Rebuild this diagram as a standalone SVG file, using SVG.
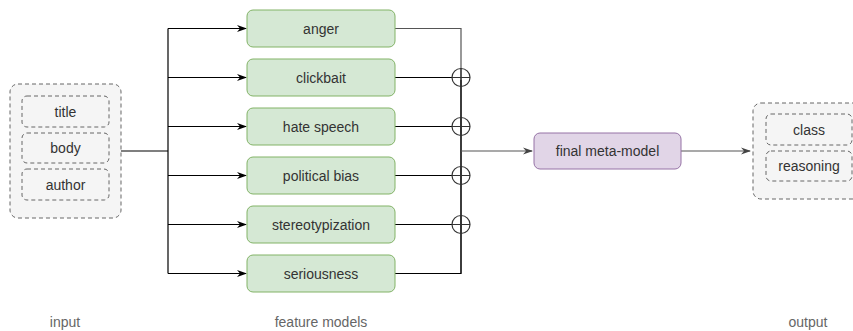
<svg xmlns="http://www.w3.org/2000/svg" width="853" height="331" viewBox="0 0 853 331">
<style>
text{font-family:"Liberation Sans",Arial,sans-serif;font-size:14px;fill:#333;text-anchor:middle;dominant-baseline:central}
.grp{fill:#f5f5f5;stroke:#666;stroke-dasharray:4 3;stroke-width:1}
.feat{fill:#d5e8d4;stroke:#82b366;stroke-width:1}
.meta{fill:#e1d5e7;stroke:#9673a6;stroke-width:1}
.lbl{fill:#666}
.ln{fill:none;stroke:#000;stroke-width:1.2}
.gl{fill:none;stroke:#555;stroke-width:1.2}
.op{fill:none;stroke:#333;stroke-width:1.2}
</style>
<defs>
<marker id="ah" markerWidth="10" markerHeight="8" refX="9" refY="4" orient="auto" markerUnits="userSpaceOnUse">
<path d="M0,0.5 L10,4 L0,7.5 L3,4 Z" fill="#000"/>
</marker>
<marker id="ahg" markerWidth="10" markerHeight="8" refX="9" refY="4" orient="auto" markerUnits="userSpaceOnUse">
<path d="M0,0.5 L10,4 L0,7.5 L3,4 Z" fill="#444"/>
</marker>
</defs>
<g id="connectors">
<path class="ln" d="M121,151 H168"/>
<path class="ln" d="M168,28.5 V273.5"/>
<path class="ln" d="M168,28.5 H246" marker-end="url(#ah)"/>
<path class="ln" d="M168,77.5 H246" marker-end="url(#ah)"/>
<path class="ln" d="M168,126.5 H246" marker-end="url(#ah)"/>
<path class="ln" d="M168,175.5 H246" marker-end="url(#ah)"/>
<path class="ln" d="M168,224.5 H246" marker-end="url(#ah)"/>
<path class="ln" d="M168,273.5 H246" marker-end="url(#ah)"/>
<path class="gl" d="M395,28.5 H461 V273.5"/>
<path class="ln" d="M461,80 V273.5 H395"/>
<path class="ln" d="M395,77.5 H452"/>
<path class="ln" d="M395,126.5 H452"/>
<path class="ln" d="M395,175.5 H452"/>
<path class="ln" d="M395,224.5 H452"/>
<g id="xor-ops">
<g class="op"><circle cx="461" cy="77.5" r="9"/><path d="M452,77.5 H470 M461,68.5 V86.5"/></g>
<g class="op"><circle cx="461" cy="126.5" r="9"/><path d="M452,126.5 H470 M461,117.5 V135.5"/></g>
<g class="op"><circle cx="461" cy="175.5" r="9"/><path d="M452,175.5 H470 M461,166.5 V184.5"/></g>
<g class="op"><circle cx="461" cy="224.5" r="9"/><path d="M452,224.5 H470 M461,215.5 V233.5"/></g>
</g>
<path class="gl" d="M461,151 H532" marker-end="url(#ahg)"/>
<path class="gl" d="M681,151 H750" marker-end="url(#ahg)"/>
</g>
<g id="input">
<rect class="grp" x="10" y="84" width="111" height="134" rx="8"/>
<g id="title"><rect class="grp" x="22" y="96" width="87" height="31" rx="5"/><text x="65.5" y="111.5">title</text></g>
<g id="body"><rect class="grp" x="22" y="133" width="87" height="30" rx="5"/><text x="65.5" y="148">body</text></g>
<g id="author"><rect class="grp" x="22" y="169" width="87" height="31" rx="5"/><text x="65.5" y="184.5">author</text></g>
</g>
<g id="anger"><rect class="feat" x="247" y="10" width="148" height="37" rx="6"/><text x="321" y="28.5">anger</text></g>
<g id="clickbait"><rect class="feat" x="247" y="59" width="148" height="37" rx="6"/><text x="321" y="77.5">clickbait</text></g>
<g id="hate-speech"><rect class="feat" x="247" y="108" width="148" height="37" rx="6"/><text x="321" y="126.5">hate speech</text></g>
<g id="political-bias"><rect class="feat" x="247" y="157" width="148" height="37" rx="6"/><text x="321" y="175.5">political bias</text></g>
<g id="stereotypization"><rect class="feat" x="247" y="206" width="148" height="37" rx="6"/><text x="321" y="224.5">stereotypization</text></g>
<g id="seriousness"><rect class="feat" x="247" y="255" width="148" height="37" rx="6"/><text x="321" y="273.5">seriousness</text></g>
<g id="final-meta-model"><rect class="meta" x="534" y="133" width="147" height="36" rx="6"/><text x="607.5" y="151">final meta-model</text></g>
<g id="output">
<rect class="grp" x="753" y="103" width="111" height="96" rx="8"/>
<g id="class"><rect class="grp" x="766" y="114" width="86" height="31" rx="5"/><text x="809" y="129.5">class</text></g>
<g id="reasoning"><rect class="grp" x="766" y="151" width="86" height="30" rx="5"/><text x="809" y="166">reasoning</text></g>
</g>
<g id="labels">
<text class="lbl" x="65" y="322">input</text>
<text class="lbl" x="321" y="322">feature models</text>
<text class="lbl" x="808" y="322">output</text>
</g>
</svg>
